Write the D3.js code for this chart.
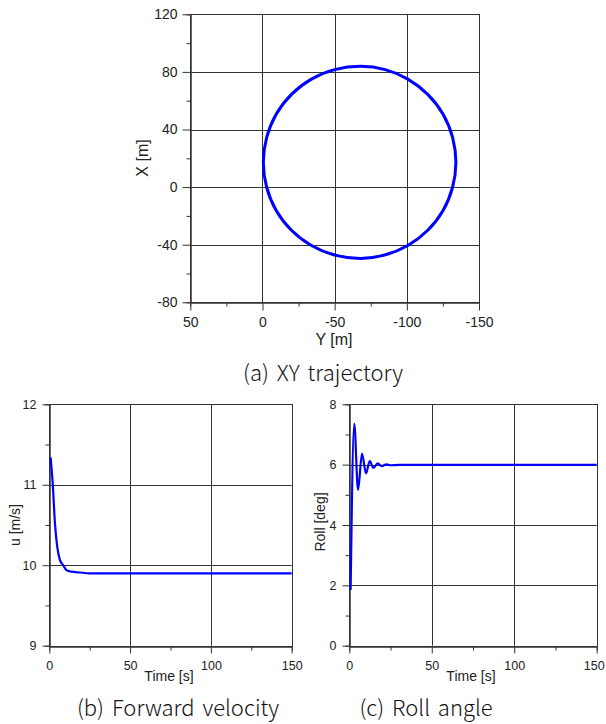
<!DOCTYPE html>
<html>

<head>
    <script src="https://cdnjs.cloudflare.com/ajax/libs/d3/7.8.5/d3.min.js"></script>
    <style>
        body {
            margin: 0;
            background: #fff;
        }

        .tick text {
            font-family: 'Liberation Sans', Arial, sans-serif;
            fill: #222;
        }

        .axtitle {
            font-family: 'Liberation Sans', Arial, sans-serif;
            fill: #222;
        }

        .caption {
            font-family: 'Noto Sans CJK KR', 'Noto Sans', sans-serif;
            font-weight: 300;
            fill: #111;
            font-size: 22px;
            word-spacing: 3px;
        }
    </style>
</head>

<body>
    <div id="root"></div>
    <script>
        // (a) trajectory, points: Y [m] and X [m]
        let trajY = [-0.6, -2.9, -9.5, -20.1, -33.9, -50.0, -68.0, -85.0, -100.7, -114.5, -125.1, -131.7,
            -134.0, -131.7, -125.1, -114.5, -100.7, -84.6, -68.0, -50.0, -33.9, -20.1, -9.5, -2.9]
        let trajX = [17.2, 34.5, 50.6, 64.4, 75.0, 81.6, 83.9, 81.6, 75.0, 64.4, 50.6, 34.5,
            17.2, -0.1, -16.2, -30.0, -40.6, -47.2, -49.5, -47.2, -40.6, -30.0, -16.2, -0.1]

        // (b) forward velocity
        let timeU = [0.8, 2.1, 3.5, 4.9, 6.5, 8.6, 10.6, 13.7, 18.8, 25, 150]
        let velU = [11.34, 11.02, 10.52, 10.23, 10.07, 10.0, 9.94, 9.92, 9.91, 9.90, 9.90]

        // (c) roll angle
        let timeRoll = [0.8, 3.0, 5.3, 7.7, 10.1, 12.4, 14.6, 17.2, 19.7, 22.5, 25, 30, 150]
        let roll = [1.85, 7.36, 5.16, 6.37, 5.71, 6.12, 5.89, 6.04, 5.95, 6.01, 5.98, 5.99, 5.99]

        let ticksYa = [50, 0, -50, -100, -150]
        let ticksXa = [-80, -40, 0, 40, 80, 120]
        let ticksT = [0, 50, 100, 150]
        let ticksU = [9, 10, 11, 12]
        let ticksRoll = [0, 2, 4, 6, 8]

        const W = 606, H = 724
        const gridColor = '#333'
        const lineColor = '#0000ff'

        let svg = d3.select('#root').append('svg')
            .attr('width', W)
            .attr('height', H)

        svg.append('rect').attr('width', W).attr('height', H).attr('fill', '#fff')

        function panel(opt) {
            let x = d3.scaleLinear().domain(opt.xDomain).range([opt.left, opt.right])
            let y = d3.scaleLinear().domain(opt.yDomain).range([opt.bottom, opt.top])
            let g = svg.append('g')

            // grid at inner major ticks
            g.selectAll('.vgrid')
                .data(opt.xTicks.slice(1, -1))
                .enter()
                .append('line')
                .attr('x1', d => Math.round(x(d)) + 0.5)
                .attr('x2', d => Math.round(x(d)) + 0.5)
                .attr('y1', opt.top)
                .attr('y2', opt.bottom)
                .attr('stroke', gridColor)
            g.selectAll('.hgrid')
                .data(opt.yTicks.slice(1, -1))
                .enter()
                .append('line')
                .attr('y1', d => Math.round(y(d)) + 0.5)
                .attr('y2', d => Math.round(y(d)) + 0.5)
                .attr('x1', opt.left)
                .attr('x2', opt.right)
                .attr('stroke', gridColor)

            // frame
            g.append('rect')
                .attr('x', Math.round(opt.left) + 0.5)
                .attr('y', Math.round(opt.top) + 0.5)
                .attr('width', Math.round(opt.right) - Math.round(opt.left))
                .attr('height', Math.round(opt.bottom) - Math.round(opt.top))
                .attr('fill', 'none')
                .attr('stroke', gridColor)

            // minor ticks
            let xMinor = []
            for (let i = 0; i < opt.xTicks.length - 1; i++) xMinor.push((opt.xTicks[i] + opt.xTicks[i + 1]) / 2)
            let yMinor = []
            for (let i = 0; i < opt.yTicks.length - 1; i++) yMinor.push((opt.yTicks[i] + opt.yTicks[i + 1]) / 2)

            g.append('g')
                .attr('transform', 'translate(0,' + (Math.round(opt.bottom) + 0.5) + ')')
                .call(d3.axisBottom(x).tickValues(xMinor).tickSize(opt.minor).tickFormat(''))
            g.append('g')
                .attr('transform', 'translate(' + (Math.round(opt.left) + 0.5) + ',0)')
                .call(d3.axisLeft(y).tickValues(yMinor).tickSize(opt.minor).tickFormat(''))

            // major ticks + labels
            let xAxisG = g.append('g')
                .attr('transform', 'translate(0,' + (Math.round(opt.bottom) + 0.5) + ')')
                .call(d3.axisBottom(x).tickValues(opt.xTicks).tickSize(opt.major).tickSizeOuter(0)
                    .tickPadding(opt.xPad).tickFormat(d3.format('d')))
            g.append('g')
                .attr('transform', 'translate(' + (Math.round(opt.left) + 0.5) + ',0)')
                .call(d3.axisLeft(y).tickValues(opt.yTicks).tickSize(opt.major).tickSizeOuter(0)
                    .tickPadding(opt.yPad).tickFormat(d3.format('d')))

            g.selectAll('.domain').attr('stroke', gridColor)
            g.selectAll('.tick line').attr('stroke', gridColor)
            g.selectAll('.tick text').style('font-size', opt.fs + 'px')
                .text(function () { return this.textContent.replace('−', '-') })

            // keep the last x label inside the page
            if (opt.lastShift) {
                xAxisG.selectAll('.tick text').filter((d, i, n) => i == n.length - 1)
                    .attr('dx', opt.lastShift)
            }

            return { x: x, y: y, g: g }
        }

        // (a) XY trajectory
        let pa = panel({
            xDomain: [50, -150], yDomain: [-80, 120],
            left: 190.3, right: 479, top: 14.3, bottom: 302.3,
            xTicks: ticksYa, yTicks: ticksXa,
            major: 8, minor: 4, xPad: 7, yPad: 5, fs: 14
        })
        let trajPts = trajY.map((v, i) => [v, trajX[i]])
        pa.g.append('path')
            .datum(trajPts)
            .attr('d', d3.line().x(d => pa.x(d[0])).y(d => pa.y(d[1])).curve(d3.curveCatmullRomClosed))
            .attr('fill', 'none')
            .attr('stroke', lineColor)
            .attr('stroke-width', 3)

        svg.append('text').attr('class', 'axtitle')
            .attr('x', 334).attr('y', 345)
            .attr('text-anchor', 'middle')
            .style('font-size', '16px')
            .text('Y [m]')
        svg.append('text').attr('class', 'axtitle')
            .attr('transform', 'translate(148,158) rotate(-90)')
            .attr('text-anchor', 'middle')
            .style('font-size', '16px')
            .text('X [m]')
        svg.append('text').attr('class', 'caption')
            .attr('x', 323).attr('y', 381)
            .attr('text-anchor', 'middle')
            .text('(a) XY trajectory')

        // (b) forward velocity
        let pb = panel({
            xDomain: [0, 150], yDomain: [9, 12],
            left: 49.3, right: 291.7, top: 404.3, bottom: 645.7,
            xTicks: ticksT, yTicks: ticksU,
            major: 7, minor: 4, xPad: 8, yPad: 6, fs: 12.5
        })
        pb.g.append('path')
            .datum(timeU.map((t, i) => [t, velU[i]]))
            .attr('d', d3.line().x(d => pb.x(d[0])).y(d => pb.y(d[1])).curve(d3.curveMonotoneX))
            .attr('fill', 'none')
            .attr('stroke', lineColor)
            .attr('stroke-width', 2.2)

        svg.append('text').attr('class', 'axtitle')
            .attr('x', 169).attr('y', 681)
            .attr('text-anchor', 'middle')
            .style('font-size', '14px')
            .text('Time [s]')
        svg.append('text').attr('class', 'axtitle')
            .attr('transform', 'translate(20,525) rotate(-90)')
            .attr('text-anchor', 'middle')
            .style('font-size', '14px')
            .text('u [m/s]')
        svg.append('text').attr('class', 'caption')
            .attr('x', 178).attr('y', 716)
            .attr('text-anchor', 'middle')
            .text('(b) Forward velocity')

        // (c) roll angle
        let pc = panel({
            xDomain: [0, 150], yDomain: [0, 8],
            left: 349.3, right: 596.7, top: 404.3, bottom: 645.7,
            xTicks: ticksT, yTicks: ticksRoll,
            major: 7, minor: 4, xPad: 8, yPad: 6, fs: 12.5, lastShift: -3
        })
        pc.g.append('path')
            .datum(timeRoll.map((t, i) => [t, roll[i]]))
            .attr('d', d3.line().x(d => pc.x(d[0])).y(d => pc.y(d[1])).curve(d3.curveMonotoneX))
            .attr('fill', 'none')
            .attr('stroke', lineColor)
            .attr('stroke-width', 2.2)

        svg.append('text').attr('class', 'axtitle')
            .attr('x', 471).attr('y', 681)
            .attr('text-anchor', 'middle')
            .style('font-size', '14px')
            .text('Time [s]')
        svg.append('text').attr('class', 'axtitle')
            .attr('transform', 'translate(325,522) rotate(-90)')
            .attr('text-anchor', 'middle')
            .style('font-size', '14px')
            .text('Roll [deg]')
        svg.append('text').attr('class', 'caption')
            .attr('x', 426).attr('y', 716)
            .attr('text-anchor', 'middle')
            .text('(c) Roll angle')
    </script>
</body>

</html>
